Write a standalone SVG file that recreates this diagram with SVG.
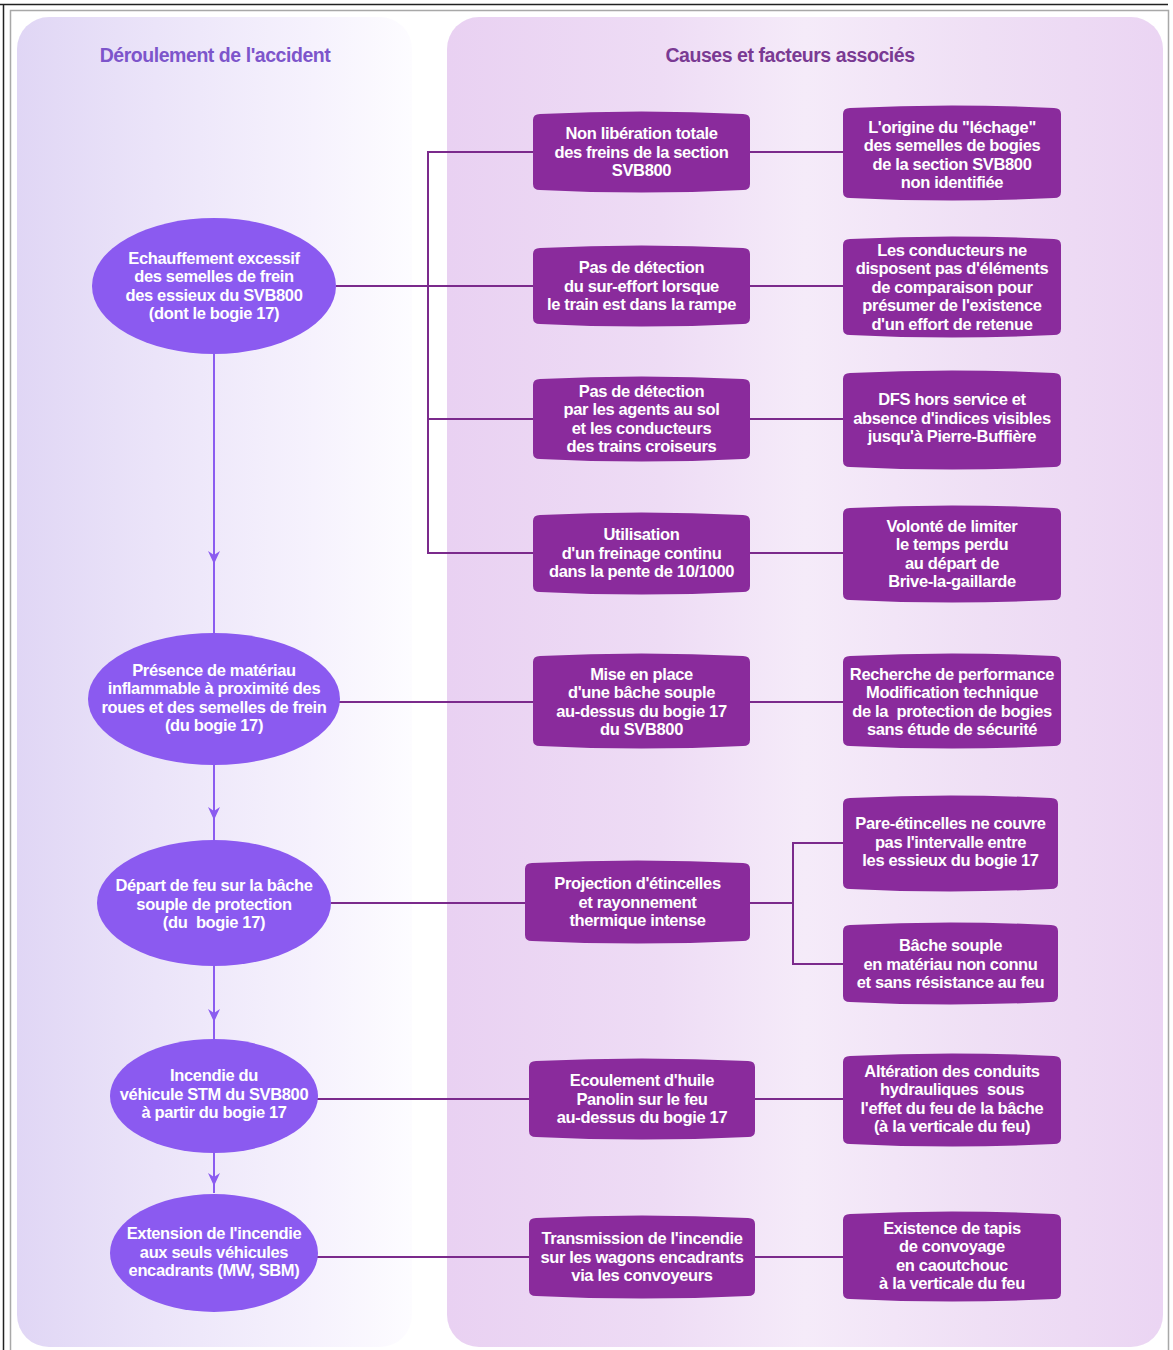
<svg xmlns="http://www.w3.org/2000/svg" width="1173" height="1350" viewBox="0 0 1173 1350">
<defs>
<linearGradient id="gl" x1="0" y1="0" x2="1" y2="0">
<stop offset="0" stop-color="#e0d6f5"/>
<stop offset="0.35" stop-color="#ebe4f9"/>
<stop offset="0.75" stop-color="#f6f2fd"/>
<stop offset="1" stop-color="#fdfcff"/>
</linearGradient>
<linearGradient id="gr" x1="0" y1="0" x2="1" y2="0">
<stop offset="0" stop-color="#e9d1f2"/>
<stop offset="0.3" stop-color="#eedcf5"/>
<stop offset="0.5" stop-color="#f5ebf9"/>
<stop offset="0.75" stop-color="#efdff5"/>
<stop offset="1" stop-color="#ebd5f3"/>
</linearGradient>
<marker id="ah" markerUnits="userSpaceOnUse" markerWidth="14" markerHeight="14" viewBox="0 0 14 14" refX="13" refY="7" orient="auto">
<path d="M0,1 L13,7 L0,13 L4,7 Z" fill="#8b5cf0"/>
</marker>
<style>
.t{font-family:"Liberation Sans",Arial,sans-serif;font-weight:bold;font-size:16.5px;fill:#ffffff;text-anchor:middle;letter-spacing:-0.35px}
.ell{fill:#8b5af0}
.box{fill:#8a2b9c}
.con{stroke:#7b2a8c;stroke-width:2;fill:none}
.arr{stroke:#8b5cf0;stroke-width:2;fill:none;marker-mid:url(#ah)}
.h{font-family:"Liberation Sans",Arial,sans-serif;font-weight:bold;font-size:19.5px;text-anchor:middle;letter-spacing:-0.45px}
</style>
</defs>
<rect width="1173" height="1350" fill="#ffffff"/>
<g id="frame" fill="none">
<line x1="0" y1="4.5" x2="1168" y2="4.5" stroke="#222" stroke-width="1.5"/>
<line x1="3.5" y1="4" x2="3.5" y2="1350" stroke="#222" stroke-width="1.5"/>
<polyline points="10.5,1350 10.5,10.5 1168.5,10.5 1168.5,1350" stroke="#a8a8a8" stroke-width="1.5"/>
</g>
<g id="panels">
<rect x="17" y="17" width="395" height="1330" rx="32" fill="url(#gl)"/>
<rect x="447" y="17" width="716" height="1330" rx="32" fill="url(#gr)"/>
</g>
<g id="titles">
<text class="h" x="215" y="62" fill="#7d55cb">Déroulement de l'accident</text>
<text class="h" x="790" y="62" fill="#7a3a93">Causes et facteurs associés</text>
</g>
<g id="connectors">
<path class="con" d="M336,286 H533"/>
<path class="con" d="M533,152 H428 V553 H533"/>
<path class="con" d="M428,419 H533"/>
<path class="con" d="M750,152 H843"/>
<path class="con" d="M750,286 H843"/>
<path class="con" d="M750,419 H843"/>
<path class="con" d="M750,553 H843"/>
<path class="con" d="M339,702 H533"/>
<path class="con" d="M750,702 H843"/>
<path class="con" d="M331,903 H525"/>
<path class="con" d="M750,903 H793"/>
<path class="con" d="M843,843 H793 V964 H843"/>
<path class="con" d="M317,1099 H529"/>
<path class="con" d="M755,1099 H843"/>
<path class="con" d="M317,1257 H529"/>
<path class="con" d="M755,1257 H843"/>
<path class="arr" d="M214,354 L214,564 L214,634"/>
<path class="arr" d="M214,765 L214,820 L214,840"/>
<path class="arr" d="M214,966 L214,1022 L214,1039"/>
<path class="arr" d="M214,1152 L214,1186 L214,1193"/>
</g>
<g id="e1"><ellipse class="ell" cx="214" cy="286" rx="122" ry="68"/>
<text class="t" x="214" y="263.75"><tspan x="214">Echauffement excessif</tspan><tspan x="214" dy="18.5">des semelles de frein</tspan><tspan x="214" dy="18.5">des essieux du SVB800</tspan><tspan x="214" dy="18.5">(dont le bogie 17)</tspan></text></g>
<g id="e2"><ellipse class="ell" cx="214" cy="699" rx="126" ry="66"/>
<text class="t" x="214" y="675.75"><tspan x="214">Présence de matériau</tspan><tspan x="214" dy="18.5">inflammable à proximité des</tspan><tspan x="214" dy="18.5">roues et des semelles de frein</tspan><tspan x="214" dy="18.5">(du bogie 17)</tspan></text></g>
<g id="e3"><ellipse class="ell" cx="214" cy="903" rx="117" ry="63"/>
<text class="t" x="214" y="891" xml:space="preserve"><tspan x="214">Départ de feu sur la bâche</tspan><tspan x="214" dy="18.5">souple de protection</tspan><tspan x="214" dy="18.5">(du  bogie 17)</tspan></text></g>
<g id="e4"><ellipse class="ell" cx="214" cy="1096" rx="104" ry="57"/>
<text class="t" x="214" y="1081"><tspan x="214">Incendie du</tspan><tspan x="214" dy="18.5">véhicule STM du SVB800</tspan><tspan x="214" dy="18.5">à partir du bogie 17</tspan></text></g>
<g id="e5"><ellipse class="ell" cx="214" cy="1253" rx="104" ry="59"/>
<text class="t" x="214" y="1239"><tspan x="214">Extension de l'incendie</tspan><tspan x="214" dy="18.5">aux seuls véhicules</tspan><tspan x="214" dy="18.5">encadrants (MW, SBM)</tspan></text></g>
<g id="b1"><path class="box" d="M533,120 Q533,114 540,114 Q641.5,109 743,114 Q750,114 750,120 V184 Q750,190 743,190 Q641.5,195 540,190 Q533,190 533,184 Z"/>
<text class="t" y="139"><tspan x="641.5">Non libération totale</tspan><tspan x="641.5" dy="18.5">des freins de la section</tspan><tspan x="641.5" dy="18.5">SVB800</tspan></text></g>
<g id="b2"><path class="box" d="M533,254 Q533,248 540,248 Q641.5,243 743,248 Q750,248 750,254 V318 Q750,324 743,324 Q641.5,329 540,324 Q533,324 533,318 Z"/>
<text class="t" y="273"><tspan x="641.5">Pas de détection</tspan><tspan x="641.5" dy="18.5">du sur-effort lorsque</tspan><tspan x="641.5" dy="18.5">le train est dans la rampe</tspan></text></g>
<g id="b3"><path class="box" d="M533,385 Q533,379 540,379 Q641.5,374 743,379 Q750,379 750,385 V453 Q750,459 743,459 Q641.5,464 540,459 Q533,459 533,453 Z"/>
<text class="t" y="396.75"><tspan x="641.5">Pas de détection</tspan><tspan x="641.5" dy="18.5">par les agents au sol</tspan><tspan x="641.5" dy="18.5">et les conducteurs</tspan><tspan x="641.5" dy="18.5">des trains croiseurs</tspan></text></g>
<g id="b4"><path class="box" d="M533,521 Q533,515 540,515 Q641.5,510 743,515 Q750,515 750,521 V586 Q750,592 743,592 Q641.5,597 540,592 Q533,592 533,586 Z"/>
<text class="t" y="540"><tspan x="641.5">Utilisation</tspan><tspan x="641.5" dy="18.5">d'un freinage continu</tspan><tspan x="641.5" dy="18.5">dans la pente de 10/1000</tspan></text></g>
<g id="b5"><path class="box" d="M533,662 Q533,656 540,656 Q641.5,651 743,656 Q750,656 750,662 V740 Q750,746 743,746 Q641.5,751 540,746 Q533,746 533,740 Z"/>
<text class="t" y="679.75"><tspan x="641.5">Mise en place</tspan><tspan x="641.5" dy="18.5">d'une bâche souple</tspan><tspan x="641.5" dy="18.5">au-dessus du bogie 17</tspan><tspan x="641.5" dy="18.5">du SVB800</tspan></text></g>
<g id="b6"><path class="box" d="M525,869 Q525,863 532,863 Q637.5,858 743,863 Q750,863 750,869 V935 Q750,941 743,941 Q637.5,946 532,941 Q525,941 525,935 Z"/>
<text class="t" y="889"><tspan x="637.5">Projection d'étincelles</tspan><tspan x="637.5" dy="18.5">et rayonnement</tspan><tspan x="637.5" dy="18.5">thermique intense</tspan></text></g>
<g id="b7"><path class="box" d="M529,1067 Q529,1061 536,1061 Q642,1056 748,1061 Q755,1061 755,1067 V1131 Q755,1137 748,1137 Q642,1142 536,1137 Q529,1137 529,1131 Z"/>
<text class="t" y="1086"><tspan x="642">Ecoulement d'huile</tspan><tspan x="642" dy="18.5">Panolin sur le feu</tspan><tspan x="642" dy="18.5">au-dessus du bogie 17</tspan></text></g>
<g id="b8"><path class="box" d="M529,1224 Q529,1218 536,1218 Q642,1213 748,1218 Q755,1218 755,1224 V1290 Q755,1296 748,1296 Q642,1301 536,1296 Q529,1296 529,1290 Z"/>
<text class="t" y="1244"><tspan x="642">Transmission de l'incendie</tspan><tspan x="642" dy="18.5">sur les wagons encadrants</tspan><tspan x="642" dy="18.5">via les convoyeurs</tspan></text></g>
<g id="r1"><path class="box" d="M843,114 Q843,108 850,108 Q952,103 1054,108 Q1061,108 1061,114 V192 Q1061,198 1054,198 Q952,203 850,198 Q843,198 843,192 Z"/>
<text class="t" y="132.75"><tspan x="952">L'origine du "léchage"</tspan><tspan x="952" dy="18.5">des semelles de bogies</tspan><tspan x="952" dy="18.5">de la section SVB800</tspan><tspan x="952" dy="18.5">non identifiée</tspan></text></g>
<g id="r2"><path class="box" d="M843,245 Q843,239 850,239 Q952,234 1054,239 Q1061,239 1061,245 V329 Q1061,335 1054,335 Q952,340 850,335 Q843,335 843,329 Z"/>
<text class="t" y="255.5"><tspan x="952">Les conducteurs ne</tspan><tspan x="952" dy="18.5">disposent pas d'éléments</tspan><tspan x="952" dy="18.5">de comparaison pour</tspan><tspan x="952" dy="18.5">présumer de l'existence</tspan><tspan x="952" dy="18.5">d'un effort de retenue</tspan></text></g>
<g id="r3"><path class="box" d="M843,379 Q843,373 850,373 Q952,368 1054,373 Q1061,373 1061,379 V461 Q1061,467 1054,467 Q952,472 850,467 Q843,467 843,461 Z"/>
<text class="t" y="405"><tspan x="952">DFS hors service et</tspan><tspan x="952" dy="18.5">absence d'indices visibles</tspan><tspan x="952" dy="18.5">jusqu'à Pierre-Buffière</tspan></text></g>
<g id="r4"><path class="box" d="M843,514 Q843,508 850,508 Q952,503 1054,508 Q1061,508 1061,514 V594 Q1061,600 1054,600 Q952,605 850,600 Q843,600 843,594 Z"/>
<text class="t" y="531.75"><tspan x="952">Volonté de limiter</tspan><tspan x="952" dy="18.5">le temps perdu</tspan><tspan x="952" dy="18.5">au départ de</tspan><tspan x="952" dy="18.5">Brive-la-gaillarde</tspan></text></g>
<g id="r5"><path class="box" d="M843,662 Q843,656 850,656 Q952,651 1054,656 Q1061,656 1061,662 V740 Q1061,746 1054,746 Q952,751 850,746 Q843,746 843,740 Z"/>
<text class="t" y="679.75" xml:space="preserve"><tspan x="952">Recherche de performance</tspan><tspan x="952" dy="18.5">Modification technique</tspan><tspan x="952" dy="18.5">de la  protection de bogies</tspan><tspan x="952" dy="18.5">sans étude de sécurité</tspan></text></g>
<g id="r6"><path class="box" d="M843,804 Q843,798 850,798 Q950.5,793 1051,798 Q1058,798 1058,804 V883 Q1058,889 1051,889 Q950.5,894 850,889 Q843,889 843,883 Z"/>
<text class="t" y="829"><tspan x="950.5">Pare-étincelles ne couvre</tspan><tspan x="950.5" dy="18.5">pas l'intervalle entre</tspan><tspan x="950.5" dy="18.5">les essieux du bogie 17</tspan></text></g>
<g id="r7"><path class="box" d="M843,931 Q843,925 850,925 Q950.5,920 1051,925 Q1058,925 1058,931 V996 Q1058,1002 1051,1002 Q950.5,1007 850,1002 Q843,1002 843,996 Z"/>
<text class="t" y="951"><tspan x="950.5">Bâche souple</tspan><tspan x="950.5" dy="18.5">en matériau non connu</tspan><tspan x="950.5" dy="18.5">et sans résistance au feu</tspan></text></g>
<g id="r8"><path class="box" d="M843,1062 Q843,1056 850,1056 Q952,1051 1054,1056 Q1061,1056 1061,1062 V1138 Q1061,1144 1054,1144 Q952,1149 850,1144 Q843,1144 843,1138 Z"/>
<text class="t" y="1076.75" xml:space="preserve"><tspan x="952">Altération des conduits</tspan><tspan x="952" dy="18.5">hydrauliques  sous</tspan><tspan x="952" dy="18.5">l'effet du feu de la bâche</tspan><tspan x="952" dy="18.5">(à la verticale du feu)</tspan></text></g>
<g id="r9"><path class="box" d="M843,1220 Q843,1214 850,1214 Q952,1209 1054,1214 Q1061,1214 1061,1220 V1293 Q1061,1299 1054,1299 Q952,1304 850,1299 Q843,1299 843,1293 Z"/>
<text class="t" y="1233.75"><tspan x="952">Existence de tapis</tspan><tspan x="952" dy="18.5">de convoyage</tspan><tspan x="952" dy="18.5">en caoutchouc</tspan><tspan x="952" dy="18.5">à la verticale du feu</tspan></text></g>
</svg>
